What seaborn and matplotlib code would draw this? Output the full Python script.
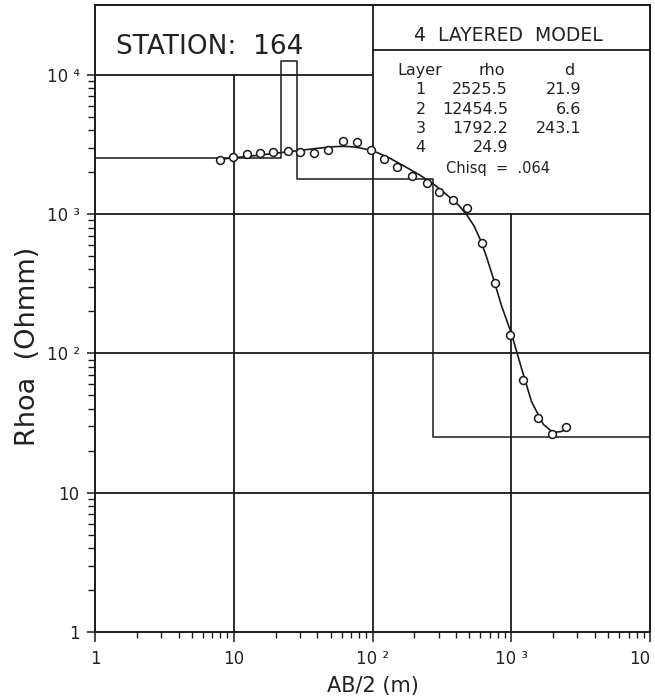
import numpy as np
import pandas as pd
import matplotlib
matplotlib.use("Agg")
import matplotlib.pyplot as plt
import seaborn as sns
from matplotlib.ticker import FixedLocator, FixedFormatter, NullFormatter

# ---------------- data ----------------
station = "164"
model_title = "4  LAYERED  MODEL"

# measured apparent resistivity
ab2 = [7.96, 9.88, 12.45, 15.45, 19.3, 24.4, 30.0, 37.9, 47.8, 61.6, 76.9,
       97.5, 121, 150, 192, 246, 303, 382, 478, 613, 764, 980, 1222, 1552,
       1956, 2468]
rhoa = [2426, 2547, 2677, 2740, 2786, 2814, 2767, 2740, 2860, 3318, 3265,
        2860, 2481, 2175, 1882, 1669, 1444, 1267, 1099, 618, 319, 136, 64.5,
        34.3, 26.4, 29.5]

# fitted model curve
curve_ab2 = [7.9, 10, 15, 20, 30, 40, 50, 60, 70, 80, 100, 130, 170, 220,
             280, 350, 420, 480, 540, 600, 660, 740, 850, 1000, 1200, 1400,
             1700, 2000, 2300, 2500]
curve_rho = [2470, 2530, 2640, 2730, 2860, 2960, 3030, 3060, 3040, 2990,
             2850, 2550, 2200, 1900, 1620, 1350, 1150, 980, 820, 650, 500,
             350, 220, 140, 75, 45, 31, 27, 27.5, 28.5]

# layered model
layer_no = [1, 2, 3, 4]
layer_rho = [2525.5, 12454.5, 1792.2, 24.9]
layer_d = [21.9, 6.6, 243.1]
chisq = ".064"

# axes / ticks
x_min, x_max = 1, 1e4
y_min, y_max = 1, 10 ** 4.5
x_ticks = [1, 10, 100, 1000, 10000]
x_tick_labels = ["1", "10", "10 \u00b2", "10 \u00b3", "10"]
y_ticks = [1, 10, 100, 1000, 10000]
y_tick_labels = ["1", "10", "10 \u00b2", "10 \u00b3", "10 \u2074"]

# ---------------- figure ----------------
sns.set_theme(style="white")
plt.rcParams["font.family"] = ["DejaVu Sans"]
plt.rcParams["text.color"] = "#222222"

fig = plt.figure(figsize=(6.55, 7.0), dpi=100)
ax = fig.add_axes([95 / 655, 1 - 632 / 700, 555 / 655, 627 / 700])
ax.set_xscale("log")
ax.set_yscale("log")
ax.set_xlim(x_min, x_max)
ax.set_ylim(y_min, y_max)

def yfrac(v):
    return np.log10(v) / np.log10(y_max)

def xfrac(v):
    return np.log10(v) / np.log10(x_max)

lc = "#1a1a1a"
glw = 1.3
# grid, interrupted by the header boxes
ax.axvline(10, ymin=0, ymax=yfrac(1e4), color=lc, lw=glw, zorder=1)
ax.axvline(100, ymin=0, ymax=1, color=lc, lw=glw, zorder=1)
ax.axvline(1000, ymin=0, ymax=yfrac(1e3), color=lc, lw=glw, zorder=1)
for yv in [10, 100, 1000]:
    ax.axhline(yv, xmin=0, xmax=1, color=lc, lw=glw, zorder=1)
ax.axhline(1e4, xmin=0, xmax=xfrac(100), color=lc, lw=glw, zorder=1)
# separator under the model title
ax.plot([xfrac(100), 1], [0.928, 0.928], transform=ax.transAxes,
        color=lc, lw=glw, zorder=1)

# layered model step line
bounds = list(np.cumsum(layer_d))
step_x = [x_min] + bounds + [x_max]
step_y = layer_rho + [layer_rho[-1]]
step_df = pd.DataFrame({"x": step_x, "y": step_y})
sns.lineplot(data=step_df, x="x", y="y", drawstyle="steps-post",
             estimator=None, sort=False, color=lc, lw=1.1, ax=ax, zorder=2)

# fitted curve
curve_df = pd.DataFrame({"x": curve_ab2, "y": curve_rho})
sns.lineplot(data=curve_df, x="x", y="y", estimator=None, sort=False,
             color=lc, lw=1.2, ax=ax, zorder=3)

# measured points
pts_df = pd.DataFrame({"x": ab2, "y": rhoa})
sns.scatterplot(data=pts_df, x="x", y="y", marker="o", s=32,
                facecolor="white", edgecolor=lc, linewidth=1.1, ax=ax,
                zorder=4)

# ---------------- ticks ----------------
minor_x = [m * 10 ** e for e in range(0, 4) for m in range(2, 10)]
minor_y = [m * 10 ** e for e in range(0, 4) for m in range(2, 10)]
ax.xaxis.set_major_locator(FixedLocator(x_ticks))
ax.xaxis.set_major_formatter(FixedFormatter(x_tick_labels))
ax.yaxis.set_major_locator(FixedLocator(y_ticks))
ax.yaxis.set_major_formatter(FixedFormatter(y_tick_labels))
ax.xaxis.set_minor_locator(FixedLocator(minor_x))
ax.yaxis.set_minor_locator(FixedLocator(minor_y))
ax.xaxis.set_minor_formatter(NullFormatter())
ax.yaxis.set_minor_formatter(NullFormatter())

ax.tick_params(axis="x", which="major", direction="out", length=7, width=1.1,
               color=lc, labelsize=12, pad=6, labelcolor="#222222",
               bottom=True, top=False)
ax.tick_params(axis="x", which="minor", direction="out", length=4, width=1.0,
               color=lc, bottom=True, top=False)
ax.tick_params(axis="y", which="major", direction="out", length=6, width=1.1,
               color=lc, labelsize=12, pad=5, labelcolor="#222222",
               left=True, right=False)
ax.tick_params(axis="y", which="minor", direction="out", length=5, width=1.0,
               color=lc, left=True, right=False)
# last x label is cut by the page edge in the reference: keep it inside
xl = ax.get_xticklabels()
xl[-1].set_horizontalalignment("right")

for sp in ax.spines.values():
    sp.set_visible(True)
    sp.set_color(lc)
    sp.set_linewidth(1.4)

ax.set_xlabel("AB/2 (m)", fontsize=15, labelpad=6, color="#222222")
ax.set_ylabel("Rhoa  (Ohmm)", fontsize=19.5, color="#222222")
ax.yaxis.set_label_coords(-0.098, 0.456)

# ---------------- header texts ----------------
ax.text(0.038, 0.933, "STATION:  " + station, transform=ax.transAxes,
        fontsize=19, ha="left", va="center", zorder=5)
ax.text(0.744, 0.952, model_title, transform=ax.transAxes,
        fontsize=13.5, ha="center", va="center", zorder=5)

row_y = [0.896, 0.865, 0.834, 0.803, 0.772, 0.740]
tfs = 11.5
ax.text(0.586, row_y[0], "Layer", transform=ax.transAxes, fontsize=tfs,
        ha="center", va="center")
ax.text(0.715, row_y[0], "rho", transform=ax.transAxes, fontsize=tfs,
        ha="center", va="center")
ax.text(0.854, row_y[0], "d", transform=ax.transAxes, fontsize=tfs,
        ha="center", va="center")
for i, (n, r) in enumerate(zip(layer_no, layer_rho)):
    yy = row_y[i + 1]
    ax.text(0.587, yy, f"{n}", transform=ax.transAxes, fontsize=tfs,
            ha="center", va="center")
    ax.text(0.744, yy, f"{r:.1f}", transform=ax.transAxes, fontsize=tfs,
            ha="right", va="center")
    if i < len(layer_d):
        ax.text(0.877, yy, f"{layer_d[i]:.1f}", transform=ax.transAxes,
                fontsize=tfs, ha="right", va="center")
ax.text(0.726, row_y[5], "Chisq  =  " + chisq, transform=ax.transAxes,
        fontsize=tfs - 1, ha="center", va="center")

fig.savefig("out.png", dpi=100)
